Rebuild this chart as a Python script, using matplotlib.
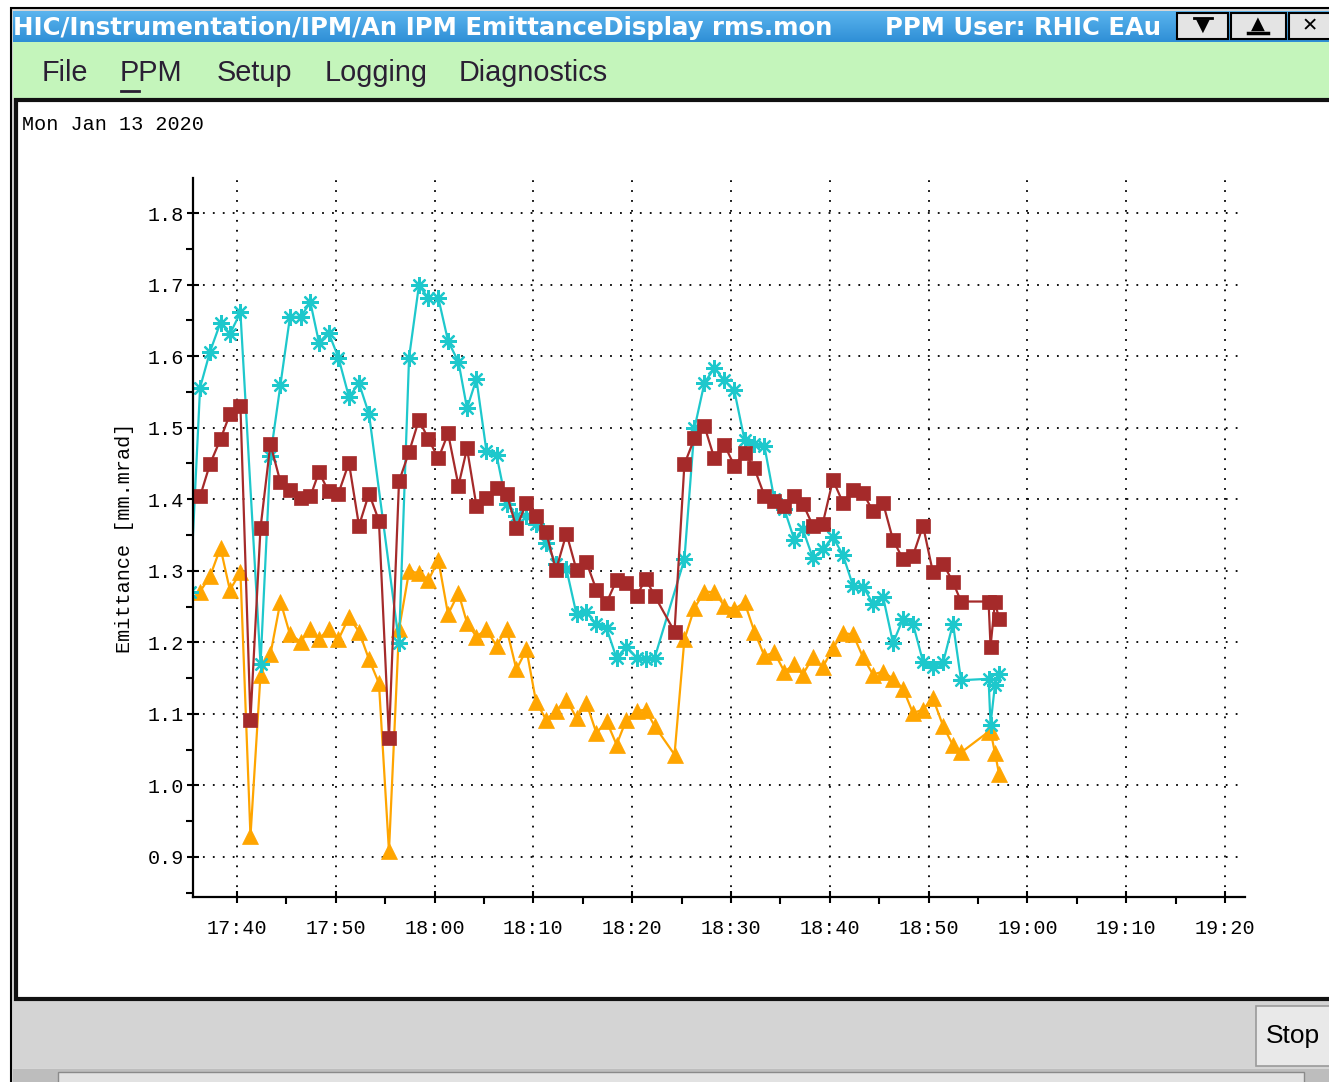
import numpy as np
import matplotlib
matplotlib.use("Agg")
import matplotlib.pyplot as plt
from matplotlib.patches import Rectangle
import pandas as pd

# ---------------- data ----------------
date_label = "Mon Jan 13 2020"
times = ["17:35:16",
         "17:36:16", "17:37:16", "17:38:20", "17:39:17", "17:40:21", "17:41:22", "17:42:23", "17:43:23",
         "17:44:24", "17:45:22", "17:46:26", "17:47:26", "17:48:18", "17:49:16", "17:50:16", "17:51:20",
         "17:52:21", "17:53:22", "17:54:22", "17:55:23", "17:56:24", "17:57:25", "17:58:25", "17:59:23",
         "18:00:23", "18:01:22", "18:02:25", "18:03:17", "18:04:14", "18:05:15", "18:06:16", "18:07:17",
         "18:08:17", "18:09:18", "18:10:16", "18:11:17", "18:12:17", "18:13:21", "18:14:22", "18:15:22",
         "18:16:23", "18:17:24", "18:18:25", "18:19:25", "18:20:29", "18:21:21", "18:22:16", "18:24:17",
         "18:25:17", "18:26:18", "18:27:19", "18:28:19", "18:29:20", "18:30:20", "18:31:22", "18:32:22",
         "18:33:23", "18:34:23", "18:35:24", "18:36:25", "18:37:16", "18:38:17", "18:39:17", "18:40:19",
         "18:41:20", "18:42:21", "18:43:22", "18:44:22", "18:45:23", "18:46:24", "18:47:25", "18:48:25",
         "18:49:26", "18:50:26", "18:51:28", "18:52:28", "18:53:17", "18:56:04", "18:56:16", "18:56:43",
         "18:57:08"]

nan = np.nan
emit_red = [nan,
    1.404, 1.449, 1.484, 1.519, 1.530, 1.092, 1.360, 1.477, 1.424, 1.413, 1.402, 1.404, 1.438, 1.411,
    1.408, 1.451, 1.363, 1.408, 1.370, 1.066, 1.425, 1.466, 1.511, 1.484, 1.457, 1.492, 1.419, 1.471,
    1.391, 1.402, 1.416, 1.408, 1.360, 1.395, 1.377, 1.354, 1.301, 1.352, 1.301, 1.312, 1.273, 1.255,
    1.287, 1.283, 1.265, 1.289, 1.265, 1.215, 1.449, 1.485, 1.502, 1.457, 1.476, 1.447, 1.465, 1.443,
    1.405, 1.398, 1.391, 1.405, 1.394, 1.363, 1.366, 1.427, 1.395, 1.413, 1.409, 1.383, 1.395, 1.343,
    1.316, 1.321, 1.363, 1.298, 1.310, 1.284, 1.257, 1.257, 1.194, 1.257, 1.232]

emit_cyan = [1.270,
    1.556, 1.606, 1.647, 1.631, 1.661, nan, 1.169, 1.460, 1.560, 1.655, 1.655, 1.675, 1.619, 1.633,
    1.598, 1.543, 1.562, 1.519, nan, nan, 1.199, 1.598, 1.699, 1.681, 1.681, 1.621, 1.592, 1.527,
    1.568, 1.467, 1.462, 1.393, 1.377, 1.376, 1.365, 1.339, 1.310, 1.302, 1.239, 1.242, 1.225, 1.220,
    1.178, 1.194, 1.178, 1.177, 1.178, nan, 1.316, 1.499, 1.563, 1.583, 1.566, 1.552, 1.483, 1.477,
    1.474, 1.400, 1.386, 1.343, 1.358, 1.318, 1.330, 1.347, 1.322, 1.279, 1.278, 1.254, 1.264, 1.199,
    1.233, 1.226, 1.173, 1.165, 1.172, 1.226, 1.147, 1.149, 1.085, 1.141, 1.156]

emit_orange = [nan,
    1.271, 1.292, 1.332, 1.273, 1.298, 0.929, 1.155, 1.183, 1.257, 1.211, 1.201, 1.218, 1.204, 1.219,
    1.204, 1.235, 1.215, 1.176, 1.143, 0.908, 1.218, 1.299, 1.297, 1.287, 1.315, 1.239, 1.269, 1.227,
    1.208, 1.218, 1.195, 1.219, 1.162, 1.190, 1.117, 1.092, 1.104, 1.120, 1.094, 1.115, 1.073, 1.090,
    1.057, 1.092, 1.104, 1.106, 1.083, 1.043, 1.204, 1.248, 1.271, 1.270, 1.251, 1.246, 1.256, 1.215,
    1.181, 1.186, 1.159, 1.169, 1.155, 1.179, 1.165, 1.192, 1.213, 1.211, 1.179, 1.155, 1.159, 1.149,
    1.135, 1.101, 1.106, 1.122, 1.083, 1.056, 1.046, 1.075, 1.076, 1.045, 1.016]

x_ticklabels = ["17:40", "17:50", "18:00", "18:10", "18:20", "18:30", "18:40", "18:50", "19:00", "19:10", "19:20"]
y_ticks = [0.9, 1.0, 1.1, 1.2, 1.3, 1.4, 1.5, 1.6, 1.7, 1.8]
y_label = "Emittance [mm.mrad]"

window_title = "HIC/Instrumentation/IPM/An IPM EmittanceDisplay rms.mon"
user_title = "PPM User: RHIC EAu"
menu_items = ["File", "PPM", "Setup", "Logging", "Diagnostics"]

# ---------------- figure / chrome ----------------
W, H = 1329, 1082
fig = plt.figure(figsize=(W / 100, H / 100), dpi=100)
fig.patch.set_facecolor("white")

bg = fig.add_axes([0, 0, 1, 1], zorder=0)
bg.set_xlim(0, W)
bg.set_ylim(H, 0)
bg.axis("off")

def rect(x0, y0, x1, y1, fc, ec="none", lw=0, z=1):
    bg.add_patch(Rectangle((x0, y0), x1 - x0, y1 - y0, facecolor=fc, edgecolor=ec, linewidth=lw, zorder=z))

# window frame
rect(11, 8, W + 5, H + 5, "#d6d6d6", ec="black", lw=1.5, z=0.5)
# title bar gradient
grad = np.linspace(0, 1, 30).reshape(-1, 1)
bg.imshow(grad, extent=(13, W, 42, 11), cmap=matplotlib.colors.LinearSegmentedColormap.from_list(
    "tb", ["#5ab4ee", "#2f8fd6"]), aspect="auto", zorder=1)
bg.text(13, 28, window_title, color="white", fontsize=17.6, fontweight="bold",
        family="DejaVu Sans", va="center", ha="left", zorder=2)
bg.text(885, 28, user_title, color="white", fontsize=17.5, fontweight="bold",
        family="DejaVu Sans", va="center", ha="left", zorder=2)
bg.set_xlim(0, W)
bg.set_ylim(H, 0)
# title buttons
for (bx0, bx1) in [(1177, 1228), (1231, 1286), (1289, 1335)]:
    rect(bx0, 13, bx1, 39, "#e4e4e4", ec="black", lw=1.5, z=2)
bg.text(1203, 26, "▼", fontsize=13, ha="center", va="center", zorder=3, family="DejaVu Sans")
bg.plot([1194, 1212], [18, 18], color="black", lw=2, zorder=3)
bg.text(1258, 24, "▲", fontsize=13, ha="center", va="center", zorder=3, family="DejaVu Sans")
bg.plot([1248, 1268], [33, 33], color="black", lw=2.5, zorder=3)
bg.text(1310, 26, "✕", fontsize=14, fontweight="bold", ha="center", va="center", zorder=3, family="DejaVu Sans")

# menu bar
rect(13, 42, W, 99, "#c4f5bb", z=1)
menu_x = [42, 120, 217, 325, 459]
for mx, item in zip(menu_x, menu_items):
    bg.text(mx, 73, item, fontsize=20.8, family="Liberation Sans", color="#2a1f33",
            va="center", ha="left", zorder=2)
bg.plot([121, 139], [91, 91], color="#2a1f33", lw=2, zorder=2)

# plot panel
rect(16, 100, W + 3, 999, "white", ec="#111111", lw=3, z=1)
bg.text(22, 124, date_label, fontsize=14.5, family="Liberation Mono", va="center", ha="left", zorder=2)

# bottom area
rect(13, 1002, W, 1068, "#d4d4d4", z=1)
rect(1256, 1006, W + 3, 1066, "#e9e9e9", ec="#9a9a9a", lw=1.2, z=2)
bg.text(1266, 1036, "Stop", fontsize=19, family="Liberation Sans", va="center", ha="left", zorder=3)
rect(13, 1069, W, H, "#bdbdbd", z=1)
rect(58, 1072, W - 25, H + 2, "#e2e2e2", ec="#8a8a8a", lw=1, z=2)

# ---------------- plot ----------------
t = pd.to_datetime(["2020-01-13 " + s for s in times])
ax = fig.add_axes([193 / W, 1 - 897 / H, (1245 - 193) / W, (897 - 178) / H], zorder=2)
ax.patch.set_alpha(0)

series = [(emit_orange, "#ffa500", "^", 11),
          (emit_cyan, "#1ec8cc", (8, 2, 0), 12),
          (emit_red, "#a52a2a", "s", 9.5)]
for vals, col, mk, ms in series:
    v = np.array(vals, dtype=float)
    m = np.isfinite(v)
    ax.plot(t[m], v[m], color=col, lw=1.6, marker=mk, markersize=ms,
            markeredgewidth=1.6 if mk == (8, 2, 0) else 0.5, markeredgecolor=col,
            markerfacecolor=col, clip_on=True)

x0 = pd.Timestamp("2020-01-13 17:00:00")
xt = [x0 + pd.Timedelta(minutes=40 + 10 * i) for i in range(len(x_ticklabels))]
ax.set_xticks(xt)
ax.set_xticklabels(x_ticklabels)
ax.set_xticks([x0 + pd.Timedelta(minutes=35 + 10 * i) for i in range(11)], minor=True)
ax.set_yticks(y_ticks)
ax.set_yticklabels([f"{v:.1f}" for v in y_ticks])
ax.set_yticks(np.arange(0.85, 1.85, 0.1), minor=True)
ax.set_xlim(x0 + pd.Timedelta(seconds=35.55 * 60), x0 + pd.Timedelta(seconds=142.02 * 60))
ax.set_ylim(0.844, 1.849)

for sp in ["top", "right"]:
    ax.spines[sp].set_visible(False)
for sp in ["left", "bottom"]:
    ax.spines[sp].set_linewidth(1.6)
    ax.spines[sp].set_color("black")

ax.tick_params(which="major", direction="inout", length=9, width=1.5, colors="black",
               labelsize=14.5)
ax.tick_params(which="minor", direction="out", length=5, width=1.5, colors="black")
ax.tick_params(axis="x", which="major", pad=11)
ax.tick_params(axis="y", which="major", pad=2)
for lab in ax.get_xticklabels() + ax.get_yticklabels():
    lab.set_family("Liberation Mono")

ax.grid(True, which="major", color="black", linestyle=(0, (1, 4.5)), linewidth=1.3)
ax.set_axisbelow(True)

ax.set_ylabel(y_label, fontsize=14.5, family="Liberation Mono")
ax.yaxis.set_label_coords((134 - 193) / (1245 - 193), (897 - 538) / (897 - 178))

fig.savefig("out.png", dpi=100)
